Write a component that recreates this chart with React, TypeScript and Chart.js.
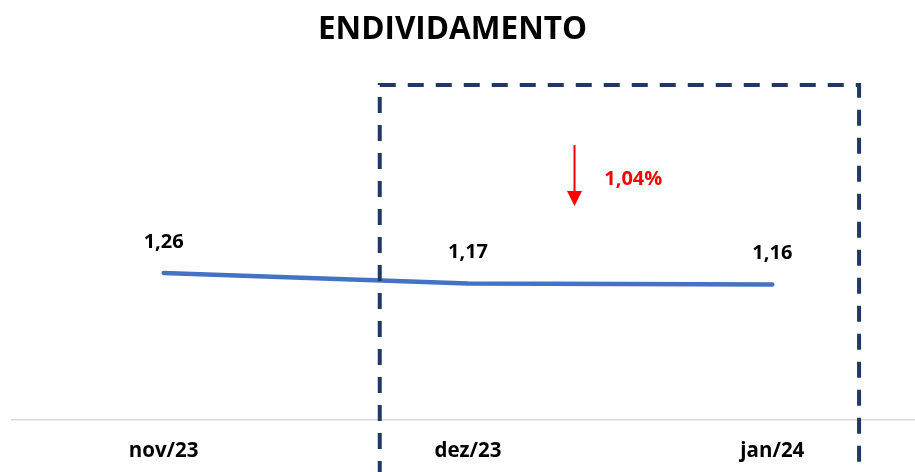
import React, { useEffect, useRef } from "react";
import { Chart, registerables } from "chart.js";

Chart.register(...registerables);

const TITLE = "ENDIVIDAMENTO";
const categories = ["nov/23", "dez/23", "jan/24"];
const values = [1.26, 1.17, 1.16];
const valueLabels = ["1,26", "1,17", "1,16"];
const changeLabel = "1,04%";

const FONT = "'Open Sans', 'DejaVu Sans', sans-serif";

// annotation placement in scale units (x: category index, y: value)
const boxX = [0.71, 2.285];
const boxTop = 2.877;
const arrowX = 1.35;
const arrowY = [2.36, 1.835];
const changeX = 1.543;
const changeY = 2.067;

const overlay = {
  id: "overlay",
  afterDatasetsDraw(chart: any) {
    const ctx = chart.ctx;
    const xs = chart.scales.x;
    const ys = chart.scales.y;
    ctx.save();
    // title
    ctx.fillStyle = "#000000";
    ctx.font = `bold 31.5px ${FONT}`;
    ctx.textAlign = "center";
    ctx.textBaseline = "middle";
    ctx.fillText(TITLE, (chart.width - 15) / 2 - 5, 30);

    // value labels
    const meta = chart.getDatasetMeta(0);
    ctx.font = `bold 20px ${FONT}`;
    meta.data.forEach((pt: any, i: number) => {
      ctx.fillText(valueLabels[i], pt.x, pt.y - 31);
    });

    // dashed box
    ctx.strokeStyle = "#203864";
    ctx.lineWidth = 4;
    ctx.setLineDash([16, 12]);
    const bl = xs.getPixelForValue(boxX[0]);
    const br = xs.getPixelForValue(boxX[1]);
    const bt = ys.getPixelForValue(boxTop);
    ctx.beginPath();
    ctx.moveTo(bl, chart.height + 5);
    ctx.lineTo(bl, bt);
    ctx.lineTo(br, bt);
    ctx.lineTo(br, chart.height + 5);
    ctx.stroke();
    ctx.setLineDash([]);

    // red arrow
    const ax = xs.getPixelForValue(arrowX);
    const ay0 = ys.getPixelForValue(arrowY[0]);
    const ay1 = ys.getPixelForValue(arrowY[1]);
    ctx.strokeStyle = "#FF0000";
    ctx.fillStyle = "#FF0000";
    ctx.lineWidth = 2;
    ctx.beginPath();
    ctx.moveTo(ax, ay0);
    ctx.lineTo(ax, ay1 - 14);
    ctx.stroke();
    ctx.beginPath();
    ctx.moveTo(ax - 7.5, ay1 - 15);
    ctx.lineTo(ax + 7.5, ay1 - 15);
    ctx.lineTo(ax, ay1);
    ctx.closePath();
    ctx.fill();

    ctx.font = `bold 20px ${FONT}`;
    ctx.fillText(changeLabel, xs.getPixelForValue(changeX), ys.getPixelForValue(changeY));
    ctx.restore();
  },
};

export default function App() {
  const ref = useRef<HTMLCanvasElement>(null);
  useEffect(() => {
    if (!ref.current) return;
    const chart = new Chart(ref.current, {
      type: "line",
      data: {
        labels: categories,
        datasets: [
          {
            data: values,
            borderColor: "#4472C4",
            borderWidth: 4.5,
            borderCapStyle: "round",
            borderJoinStyle: "round",
            pointRadius: 0,
            tension: 0,
            fill: false,
          },
        ],
      },
      options: {
        animation: false,
        responsive: false,
        devicePixelRatio: 1,
        layout: { padding: { top: 70.7, left: 11.5, right: 5.5, bottom: -10 } },
        plugins: {
          legend: { display: false },
          title: { display: false },
          tooltip: { enabled: false },
        },
        scales: {
          x: {
            type: "category",
            offset: true,
            grid: { display: false, drawTicks: false },
            border: { display: true, color: "#D9D9D9", width: 1.5 },
            ticks: {
              color: "#000000",
              padding: 19,
              font: { family: FONT, size: 20.5, weight: "bold" },
            },
          },
          y: {
            display: false,
            min: 0,
            max: 3,
          },
        },
      },
      plugins: [overlay],
    });
    return () => chart.destroy();
  }, []);
  return (
    <div
      style={{
        position: "fixed",
        left: 0,
        top: 0,
        width: 915,
        height: 472,
        overflow: "hidden",
        background: "#ffffff",
      }}
    >
      <canvas ref={ref} width={930} height={472} style={{ width: 930, height: 472, display: "block" }} />
    </div>
  );
}
